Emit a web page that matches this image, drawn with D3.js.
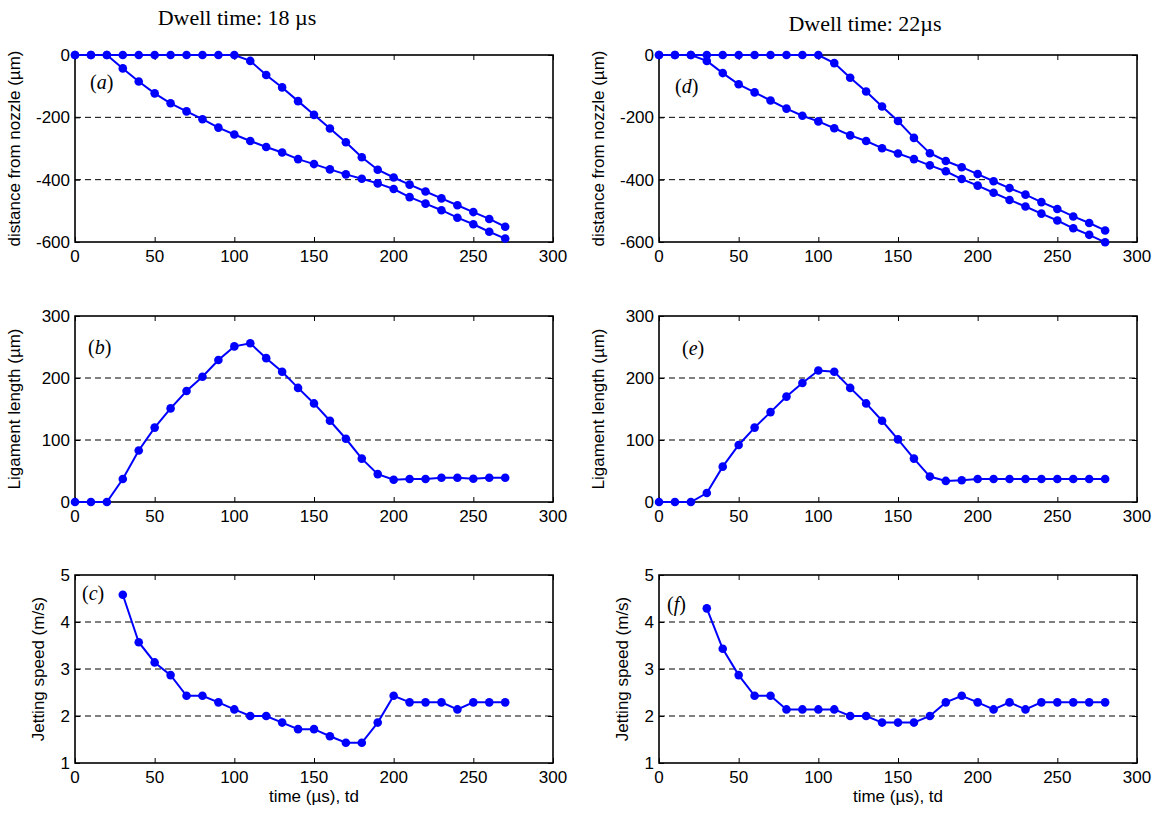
<!DOCTYPE html>
<html>
<head>
<meta charset="utf-8">
<script src="https://cdn.jsdelivr.net/npm/d3@7"></script>
<style>
  body { margin: 0; background: #fff; }
</style>
</head>
<body>
<svg id="fig" width="1158" height="814"></svg>
<script>
// time axes (µs)
var tLeft  = [0,10,20,30,40,50,60,70,80,90,100,110,120,130,140,150,160,170,180,190,200,210,220,230,240,250,260,270];
var tRight = [0,10,20,30,40,50,60,70,80,90,100,110,120,130,140,150,160,170,180,190,200,210,220,230,240,250,260,270,280];
var tSpeedLeft  = [30,40,50,60,70,80,90,100,110,120,130,140,150,160,170,180,190,200,210,220,230,240,250,260,270];
var tSpeedRight = [30,40,50,60,70,80,90,100,110,120,130,140,150,160,170,180,190,200,210,220,230,240,250,260,270,280];

// (a) distance from nozzle, dwell 18 µs
var tail18 = [0,0,0,0,0,0,0,0,0,0,0,-19,-64,-104,-148,-192,-236,-280,-328,-368,-393,-416,-438,-460,-482,-504,-526,-551];
var head18 = [0,0,0,-43,-85,-123,-155,-181,-206,-233,-255,-276,-295,-313,-334,-350,-367,-383,-397,-412,-430,-456,-477,-498,-522,-543,-567,-589];
// (d) distance from nozzle, dwell 22 µs
var tail22 = [0,0,0,0,0,0,0,0,0,0,0,-26,-73,-117,-165,-212,-266,-315,-340,-360,-382,-405,-427,-448,-472,-494,-518,-539,-563];
var head22 = [0,0,0,-19,-58,-94,-120,-146,-172,-195,-213,-235,-258,-276,-299,-316,-334,-354,-373,-398,-419,-442,-465,-486,-509,-531,-556,-577,-601];
// (b),(e) ligament length
var lig18 = [0,0,0,37,83,120,151,179,202,229,251,256,232,210,184,159,131,102,70,45,36,37,37,39,39,37.5,39,39];
var lig22 = [0,0,0,14.5,57,92,120,145,170,192,212,210,184,159,131,101,70,41,34,35,37,37,37,37,37,37,37,37,37];
// (c),(f) jetting speed
var speed18 = [4.58,3.57,3.14,2.87,2.43,2.43,2.29,2.14,2.0,2.0,1.86,1.72,1.72,1.57,1.43,1.43,1.86,2.43,2.29,2.29,2.29,2.14,2.29,2.29,2.29];
var speed22 = [4.29,3.43,2.87,2.43,2.43,2.14,2.14,2.14,2.14,2.0,2.0,1.86,1.86,1.86,2.0,2.29,2.43,2.29,2.14,2.29,2.14,2.29,2.29,2.29,2.29,2.29];

var xTicks = [0,50,100,150,200,250,300];
var distTicks = [0,-200,-400,-600];
var ligTicks = [0,100,200,300];
var speedTicks = [1,2,3,4,5];

var svg = d3.select("#fig");
var blue = "#0000ff";
var sans = "'Liberation Sans', Arial, Helvetica, sans-serif";
var serif = "'Liberation Serif', 'Times New Roman', serif";
var fs = 17;

function zip(xs, ys){ return xs.map(function(x,i){ return [x, ys[i]]; }); }

function panel(opt){
  var g = svg.append("g");
  var x = d3.scaleLinear().domain([0,300]).range([opt.left, opt.right]);
  var y = d3.scaleLinear().domain(opt.ydom).range([opt.bottom, opt.top]);

  // dashed grid at inner ticks
  g.selectAll("line.grid").data(opt.yticks.slice(1,-1)).enter().append("line")
    .attr("x1", opt.left).attr("x2", opt.right)
    .attr("y1", function(d){ return y(d); }).attr("y2", function(d){ return y(d); })
    .attr("stroke", "#000").attr("stroke-width", 1).attr("stroke-dasharray", "6,4");

  // inward ticks on all four sides
  var tl = 5;
  g.append("g").attr("transform","translate(0,"+opt.bottom+")")
    .call(d3.axisBottom(x).tickValues(xTicks).tickSizeInner(-tl).tickSizeOuter(0).tickFormat(""));
  g.append("g").attr("transform","translate(0,"+opt.top+")")
    .call(d3.axisTop(x).tickValues(xTicks).tickSizeInner(-tl).tickSizeOuter(0).tickFormat(""));
  g.append("g").attr("transform","translate("+opt.left+",0)")
    .call(d3.axisLeft(y).tickValues(opt.yticks).tickSizeInner(-tl).tickSizeOuter(0).tickFormat(""));
  g.append("g").attr("transform","translate("+opt.right+",0)")
    .call(d3.axisRight(y).tickValues(opt.yticks).tickSizeInner(-tl).tickSizeOuter(0).tickFormat(""));
  g.selectAll(".domain").remove();
  g.selectAll(".tick line").attr("stroke","#000").attr("stroke-width",1);

  g.append("rect").attr("x", opt.left).attr("y", opt.top)
    .attr("width", opt.right-opt.left).attr("height", opt.bottom-opt.top)
    .attr("fill","none").attr("stroke","#000").attr("stroke-width",1.6);

  // tick labels
  g.selectAll("text.xt").data(xTicks).enter().append("text")
    .attr("x", function(d){ return x(d); }).attr("y", opt.bottom+20)
    .attr("text-anchor","middle").style("font-family",sans).style("font-size",fs+"px")
    .text(function(d){ return d; });
  g.selectAll("text.yt").data(opt.yticks).enter().append("text")
    .attr("x", opt.left-5).attr("y", function(d){ return y(d); }).attr("dy","0.36em")
    .attr("text-anchor","end").style("font-family",sans).style("font-size",fs+"px")
    .text(function(d){ return d; });

  // y label
  g.append("text").attr("transform","translate("+opt.ylabX+","+((opt.top+opt.bottom)/2)+") rotate(-90)")
    .attr("text-anchor","middle").style("font-family",sans).style("font-size",fs+"px").text(opt.ylabel);

  // panel letter
  var pl = g.append("text").attr("x", opt.tagX).attr("y", opt.tagY)
    .style("font-family",serif).style("font-size","20px");
  pl.append("tspan").text("(");
  pl.append("tspan").style("font-style","italic").text(opt.tag);
  pl.append("tspan").text(")");

  var line = d3.line().x(function(d){ return x(d[0]); }).y(function(d){ return y(d[1]); });
  opt.series.forEach(function(s){
    g.append("path").datum(s).attr("d", line)
      .attr("fill","none").attr("stroke", blue).attr("stroke-width",2);
    g.selectAll(null).data(s).enter().append("circle")
      .attr("cx", function(d){ return x(d[0]); }).attr("cy", function(d){ return y(d[1]); })
      .attr("r", 4.3).attr("fill", blue);
  });
}

var cols = [
  {left: 75, right: 553, ylx: 20, ylx2: 44, t: tLeft, ts: tSpeedLeft, tail: tail18, head: head18, lig: lig18, sp: speed18,
   tags: ["a","b","c"], tagPos: [[90,89],[88,354],[82,600]]},
  {left: 659, right: 1137, ylx: 604, ylx2: 628, t: tRight, ts: tSpeedRight, tail: tail22, head: head22, lig: lig22, sp: speed22,
   tags: ["d","e","f"], tagPos: [[675,93],[682,355],[667,611]]}
];

cols.forEach(function(c){
  panel({left:c.left, right:c.right, top:55, bottom:242, ydom:[-600,0], yticks:distTicks,
    ylabel:"distance from nozzle (\u00b5m)", ylabX:c.ylx, tag:c.tags[0], tagX:c.tagPos[0][0], tagY:c.tagPos[0][1],
    series:[zip(c.t, c.tail), zip(c.t, c.head)]});
  panel({left:c.left, right:c.right, top:316, bottom:502, ydom:[0,300], yticks:ligTicks,
    ylabel:"Ligament length (\u00b5m)", ylabX:c.ylx, tag:c.tags[1], tagX:c.tagPos[1][0], tagY:c.tagPos[1][1],
    series:[zip(c.t, c.lig)]});
  panel({left:c.left, right:c.right, top:575, bottom:763, ydom:[1,5], yticks:speedTicks,
    ylabel:"Jetting speed (m/s)", ylabX:c.ylx2, tag:c.tags[2], tagX:c.tagPos[2][0], tagY:c.tagPos[2][1],
    series:[zip(c.ts, c.sp)]});
  svg.append("text").attr("x",(c.left+c.right)/2).attr("y",802).attr("text-anchor","middle")
    .style("font-family",sans).style("font-size",fs+"px").text("time (\u00b5s), td");
});

svg.append("text").attr("x",237).attr("y",25).attr("text-anchor","middle")
  .style("font-family",serif).style("font-size","22px")
  .text("Dwell time: 18 \u00b5s");
svg.append("text").attr("x",865).attr("y",31).attr("text-anchor","middle")
  .style("font-family",serif).style("font-size","22px")
  .text("Dwell time: 22\u00b5s");
</script>
</body>
</html>
